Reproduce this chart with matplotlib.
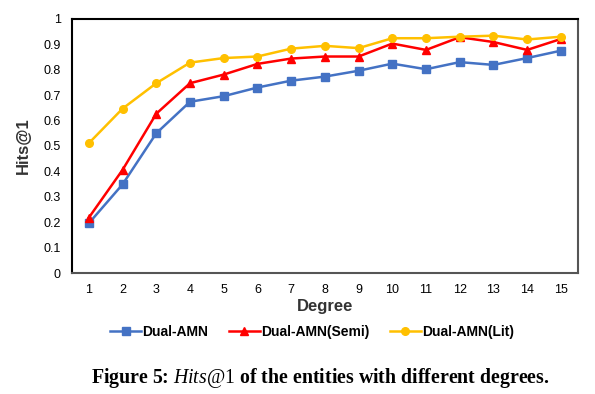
import matplotlib
matplotlib.use('Agg')
import matplotlib.pyplot as plt

degrees = list(range(1, 16))
dual_amn = [0.196, 0.349, 0.550, 0.674, 0.696, 0.730, 0.757, 0.773, 0.796,
            0.824, 0.802, 0.830, 0.819, 0.846, 0.875]
dual_amn_semi = [0.218, 0.406, 0.627, 0.747, 0.781, 0.823, 0.844, 0.852, 0.852,
                 0.903, 0.878, 0.928, 0.909, 0.878, 0.921]
dual_amn_lit = [0.511, 0.647, 0.747, 0.828, 0.846, 0.852, 0.883, 0.894, 0.885,
                0.924, 0.924, 0.930, 0.934, 0.919, 0.930]
yticks = [0, 0.1, 0.2, 0.3, 0.4, 0.5, 0.6, 0.7, 0.8, 0.9, 1]
ytick_labels = ['0', '0.1', '0.2', '0.3', '0.4', '0.5', '0.6', '0.7', '0.8', '0.9', '1']

plt.rcParams['font.family'] = 'Liberation Sans'
plt.rcParams['mathtext.fontset'] = 'custom'
plt.rcParams['mathtext.it'] = 'Liberation Serif:italic'
plt.rcParams['mathtext.rm'] = 'Liberation Serif'

fig = plt.figure(figsize=(5.95, 3.94), dpi=100)
ax = fig.add_axes([0.121, 0.307, 0.850, 0.645])

ax.plot(degrees, dual_amn, color='#4472C4', marker='s', markersize=5.5, lw=1.8, label='Dual-AMN')
ax.plot(degrees, dual_amn_semi, color='#FF0000', marker='^', markersize=5.5, lw=1.8, label='Dual-AMN(Semi)')
ax.plot(degrees, dual_amn_lit, color='#FFC000', marker='o', markersize=5.5, lw=1.8, label='Dual-AMN(Lit)')

ax.set_xlim(0.5, 15.5)
ax.set_ylim(0, 1)
ax.set_xticks(degrees)
ax.set_yticks(yticks)
ax.set_yticklabels(ytick_labels)
ax.tick_params(length=0, labelsize=9, pad=8)
for s in ['top', 'left']:
    ax.spines[s].set_color('black')
    ax.spines[s].set_linewidth(1.5)
for s in ['bottom', 'right']:
    ax.spines[s].set_color('#555555')
    ax.spines[s].set_linewidth(1.5)

ax.set_xlabel('Degree', fontsize=12, fontweight='bold', color='#333333', labelpad=2)
ax.set_ylabel('Hits@1', fontsize=12, fontweight='bold', color='#333333', labelpad=9)

ax.legend(loc='upper center', bbox_to_anchor=(0.475, -0.155), ncol=3, frameon=False,
          prop={'size': 10, 'weight': 'bold'}, handlelength=2.2, columnspacing=1.5,
          handletextpad=0.1)

fig.text(0.538, 0.04, r'Figure 5: $Hits@\mathrm{1}$ of the entities with different degrees.',
         ha='center', va='center', fontsize=14.3, fontweight='bold', family='Liberation Serif')

fig.savefig('out.png', dpi=100)
